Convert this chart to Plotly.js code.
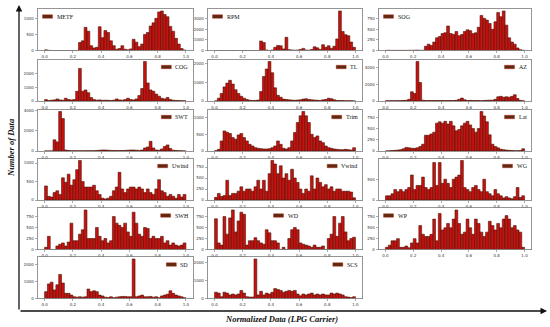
<!DOCTYPE html>
<html><head><meta charset="utf-8">
<script src="https://cdn.plot.ly/plotly-3.0.1.min.js"></script>
<style>html,body{margin:0;padding:0;background:#fff}#chart{width:550px;height:327px}</style>
</head><body><div id="chart"></div>
<script>
// ---- data (50 bins of width 0.02 over normalized range 0..1) ----
const binEdges0 = 0.0, binWidth = 0.02;
const METF = [20,5,0,0,0,0,0,0,0,0,0,0, 250,300,720,600,150,80,100,740, 400,620,560,300,150,40,60,150,40,20, 50,350,260,120,200,500,560,760,860,1000, 1200,1230,1120,1050,750,600,380,200,60,15];
const RPM = [0,0,0,0,0,0,0,0,0,0,0,0,0,0,0,0, 900,750,50,0,50,300,480,450,150,1250, 80,50,30,50,100,200,50,30,100,350, 250,100,550,300,450,200,400,1100,3750,1800, 1500,1400,800,300];
const SOG = [5,5,3,3,3,3,3,3,5,5,8,10,5,5, 100,150,120,200,300,330, 400,420,580,400,380,450,350,380,450,490, 470,400,420,550,830,760,720,640,500,680, 900,800,935,600,300,200,150,60,20,5];
const COG = [100,30,60,80,150,80,60,200,100,80, 100,700,2350,700,800,600,250,100,60,80, 50,60,50,40,60,150,80,60,100,200, 100,80,150,400,900,2850,1300,800,700,500, 350,200,150,250,100,60,40,30,20,10];
const TL = [5,150,400,750,950,1100,900,600,400,250, 150,80,40,20,30,50,500,1300,1700,2100, 1500,700,300,200,100,80,60,50,40,50, 60,100,120,80,60,50,40,30,60,80, 150,120,60,30,20,20,10,10,10,5];
const AZ = [30,30,30,40,40,50,60,80,200,1100, 900,4700,2200,100,50,50,50,60,50,50, 60,50,50,60,50,80,200,350,150,60, 80,50,60,50,40,60,80,100,100,200, 500,550,450,500,450,550,750,300,60,20];
const SWT = [10,10,10,1100,900,3900,3200,100,50,30, 30,30,20,20,20,30,30,30,50,80, 100,100,80,60,50,40,40,50,60,80, 100,100,80,60,100,300,400,950,300,100, 80,200,450,600,250,80,50,30,20,10];
const Trim = [10,50,300,600,560,520,400,350,480,520, 400,300,200,150,100,80,70,60,60,70, 100,150,300,200,80,60,100,300,550,850, 1050,1180,1050,850,500,400,450,300,250,150, 100,80,60,50,40,40,50,40,30,100];
const Lat = [2,5,10,15,20,30,50,80,70,60, 60,70,100,150,350,350,380,420,620,650, 620,660,600,660,560,450,480,560,620,660, 580,500,420,500,880,780,650,360,150,100, 70,40,30,20,15,10,8,5,10,50];
const Uwind = [380,100,80,200,250,150,600,480,700,400, 550,820,1070,500,350,350,350,400,250,150, 50,30,50,100,250,350,750,300,200,300, 350,350,300,350,300,200,300,200,150,300, 550,250,200,100,150,100,50,150,80,150];
const Vwind = [60,150,80,100,450,100,150,150,200,300, 200,250,250,200,300,450,250,450,200,600, 900,820,600,780,500,600,450,700,500,400, 250,150,250,200,550,250,500,400,300,350, 250,300,200,250,250,200,200,200,180,50];
const WG = [100,100,150,250,200,250,200,250,300,600, 250,350,350,550,300,250,300,900,350,900, 400,500,400,300,500,550,600,950,300,250, 200,300,350,250,200,500,200,150,100,250, 150,100,50,80,50,30,80,300,60,100];
const SWH = [50,300,0,0,80,120,150,80,170,600, 200,200,350,450,900,250,250,250,500,300, 200,250,150,200,750,600,550,500,600,400, 300,850,600,350,300,500,480,250,300,250, 250,300,150,200,100,150,100,80,100,150];
const WD = [700,150,100,750,350,720,900,400,650,850, 800,100,200,200,270,200,150,120,450,380, 200,200,150,0,50,0,250,450,500,450, 150,120,100,80,50,100,50,50,80,0, 250,350,750,300,600,750,400,200,250,280];
const WP = [50,100,200,200,250,50,50,80,40,150, 250,150,550,350,300,300,350,700,200,830, 450,500,600,500,700,910,600,350,400,700, 500,350,700,600,400,300,400,650,550,450, 600,500,700,780,700,500,550,450,400,50];
const SD = [400,850,950,500,800,1400,900,300,300,200, 100,80,100,80,100,550,400,450,400,200, 150,80,60,100,50,80,100,120,120,100, 100,2300,100,150,200,100,100,120,80,100, 50,150,200,250,450,300,200,150,100,50];
const SCS = [350,300,100,350,300,200,250,200,250,450, 300,100,80,80,2200,200,400,200,300,250, 350,550,500,450,350,400,450,400,450,250, 150,250,200,250,300,200,250,200,250,200, 200,300,250,300,250,200,100,80,50,100];

const names = ['METF','RPM','SOG','COG','TL','AZ','SWT','Trim','Lat','Uwind','Vwind','WG','SWH','WD','WP','SD','SCS'];
const series = [METF,RPM,SOG,COG,TL,AZ,SWT,Trim,Lat,Uwind,Vwind,WG,SWH,WD,WP,SD,SCS];
const dticks = [500,1000,250,1000,1000,2000,2000,500,250,500,250,500,250,250,250,1000,1000];
const legPos = ['ul','ul','ul','ur','ur','ur','ur','ur','ur','ur','ur','ur','ur','uc','ul','ur','ur'];
const xTickVals = [0,0.2,0.4,0.6,0.8,1.0];
const xTickText = ['0.0','0.2','0.4','0.6','0.8','1.0'];
const xTitle = 'Normalized Data (LPG Carrier)';
const yTitle = 'Number of Data';

// ---- layout geometry (pixels) ----
const W = 550, H = 327;
const colX0 = [37.5, 207.5, 378.5], colX1 = [193, 362.5, 531.5];
const rowTop = [9, 59.5, 109.5, 158.5, 208, 257], rowH = 41.5;
const px = x => x / W, py = y => 1 - y / H;

const ctx = document.createElement('canvas').getContext('2d');
ctx.font = "6px 'Liberation Serif'";

const data = [], shapes = [], annotations = [];
const layout = {
  width: W, height: H, margin: {l:0, r:0, t:0, b:0},
  paper_bgcolor: '#fff', plot_bgcolor: '#fff', showlegend: false,
  bargap: 0, font: {family: 'DejaVu Sans', size: 4, color: '#333'}
};

series.forEach((vals, k) => {
  const r = Math.floor(k / 3), c = k % 3;
  const sfx = k === 0 ? '' : String(k + 1);
  const x0 = colX0[c], x1 = colX1[c], top = rowTop[r], bot = top + rowH;
  const centers = vals.map((_, i) => binEdges0 + binWidth * (i + 0.5));
  data.push({
    type: 'bar', x: centers, y: vals, width: binWidth,
    xaxis: 'x' + sfx, yaxis: 'y' + sfx,
    marker: {color: '#cc1010', line: {color: '#451807', width: 0.6}},
    hoverinfo: 'skip'
  });
  const ymax = Math.max(...vals) * 1.05;
  const axCommon = {
    showline: true, mirror: true, linecolor: '#7a7a7a', linewidth: 0.8,
    showgrid: false, zeroline: false, ticks: 'outside', ticklen: 2,
    tickwidth: 0.5, tickcolor: '#555', tickfont: {family: 'DejaVu Sans', size: 4, color: '#333'}
  };
  layout['xaxis' + sfx] = Object.assign({}, axCommon, {
    domain: [px(x0), px(x1)], range: [-0.05, 1.05], anchor: 'y' + sfx,
    tickmode: 'array', tickvals: xTickVals, ticktext: xTickText
  });
  layout['yaxis' + sfx] = Object.assign({}, axCommon, {
    domain: [py(bot), py(top)], range: [0, ymax], anchor: 'x' + sfx,
    tickmode: 'linear', tick0: 0, dtick: dticks[k]
  });
  // legend: swatch + label
  const tw = ctx.measureText(names[k]).width;
  const sw = 10, sh = 3.5, gap = 3, ly = top + 7.5;
  let sx;
  if (legPos[k] === 'ul') sx = x0 + 5;
  else if (legPos[k] === 'ur') sx = x1 - 6 - tw - gap - sw;
  else sx = (x0 + x1) / 2 - (sw + gap + tw) / 2;
  shapes.push({type: 'rect', xref: 'paper', yref: 'paper',
    x0: px(sx), x1: px(sx + sw), y0: py(ly + sh / 2), y1: py(ly - sh / 2),
    fillcolor: '#5e2a0e', line: {color: '#c01818', width: 0.4}});
  annotations.push({xref: 'paper', yref: 'paper', x: px(sx + sw + gap - 1), y: py(ly),
    xanchor: 'left', yanchor: 'middle', showarrow: false, text: names[k],
    font: {family: 'Liberation Serif', size: 6, color: '#111'}});
});

// outer arrows
annotations.push({xref: 'paper', yref: 'paper', x: px(19), y: py(5), ax: 0, ay: 306,
  axref: 'pixel', ayref: 'pixel', text: '', showarrow: true, arrowhead: 2,
  arrowsize: 1, arrowwidth: 1.3, arrowcolor: '#111'});
annotations.push({xref: 'paper', yref: 'paper', x: px(547), y: py(311), ax: -528, ay: 0,
  axref: 'pixel', ayref: 'pixel', text: '', showarrow: true, arrowhead: 2,
  arrowsize: 1, arrowwidth: 1.3, arrowcolor: '#111'});
// outer titles
annotations.push({xref: 'paper', yref: 'paper', x: px(281), y: py(318.5), showarrow: false,
  text: '<b><i>' + xTitle + '</i></b>', xanchor: 'center', yanchor: 'middle',
  font: {family: 'Liberation Serif', size: 8.5, color: '#111'}});
annotations.push({xref: 'paper', yref: 'paper', x: px(11), y: py(148), showarrow: false,
  text: '<b><i>' + yTitle + '</i></b>', textangle: -90, xanchor: 'center', yanchor: 'middle',
  font: {family: 'Liberation Serif', size: 8.5, color: '#111'}});

layout.shapes = shapes;
layout.annotations = annotations;
Plotly.newPlot('chart', data, layout, {displayModeBar: false, staticPlot: true});
</script></body></html>
